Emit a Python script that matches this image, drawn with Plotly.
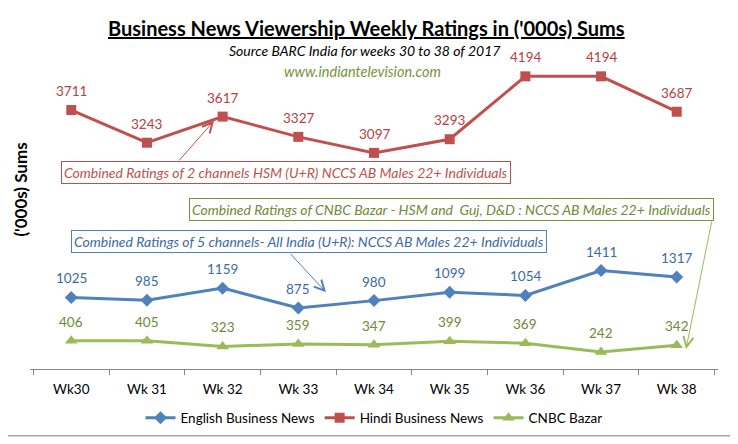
import plotly.graph_objects as go

weeks = ["Wk30", "Wk 31", "Wk 32", "Wk 33", "Wk 34", "Wk 35", "Wk 36", "Wk 37", "Wk 38"]
english = [1025, 985, 1159, 875, 980, 1099, 1054, 1411, 1317]
hindi = [3711, 3243, 3617, 3327, 3097, 3293, 4194, 4194, 3687]
cnbc = [406, 405, 323, 359, 347, 399, 369, 242, 342]

FONT = "Lato"
OFF = 8  # page body margin
W, H = 738 - OFF, 444 - OFF
L, R, T, B = 30, 718, 55, 370  # plot area in page pixels


def px(x):
    return (x - L) / (R - L)


def py(y):
    return (B - y) / (B - T)


fig = go.Figure()
series = [
    ("English Business News", english, "#4F81BD", "diamond", 10, "#3A6AA8"),
    ("Hindi Business News", hindi, "#C0504D", "square", 10, "#B8403D"),
    ("CNBC Bazar", cnbc, "#9BBB59", "triangle-up", 11, "#6E8A34"),
]
annotations = []
for name, vals, col, sym, size, tcol in series:
    fig.add_trace(go.Scatter(
        x=weeks, y=vals, name=name, mode="lines+markers",
        line=dict(color=col, width=3),
        marker=dict(symbol=sym, size=size, color=col),
    ))
    for w, v in zip(weeks, vals):
        annotations.append(dict(x=w, y=v, text=str(v), showarrow=False, yshift=19,
                                xanchor="center", yanchor="middle",
                                font=dict(family=FONT, size=13.5, color=tcol)))


def pa(x, y, text, size, color, **kw):
    d = dict(xref="paper", yref="paper", x=px(x), y=py(y), text=text, showarrow=False,
             xanchor="center", yanchor="middle", font=dict(family=FONT, size=size, color=color))
    d.update(kw)
    return d


# Titles
annotations += [
    pa(366, 28, "<b><u>Business News Viewership Weekly Ratings in ('000s) Sums</u></b>", 20, "#000000"),
    pa(364, 50, "<i>Source BARC India for weeks 30 to 38 of 2017</i>", 14, "#000000"),
    pa(362, 72, "<i>www.indiantelevision.com</i>", 14.5, "#77933C"),
    pa(21, 190, "<b>('000s) Sums</b>", 17, "#000000", textangle=-90),
]

# Callout boxes
boxes = [
    ("Combined Ratings of 2 channels HSM (U+R) NCCS AB Males 22+ Individuals", 286, 173, "#C0504D", "#C0504D"),
    ("Combined Ratings of CNBC Bazar - HSM and  Guj, D&D : NCCS AB Males 22+ Individuals", 451, 210, "#77933C", "#6E8A34"),
    ("Combined Ratings of 5 channels- All India (U+R): NCCS AB Males 22+ Individuals", 309, 242, "#4F81BD", "#3A6AA8"),
]
for text, cx, cy, bc, tc in boxes:
    annotations.append(pa(cx, cy, "<i>" + text.replace("  ", "&nbsp; ") + "</i>", 14, tc,
                          bordercolor=bc, borderwidth=1, borderpad=2, bgcolor="white"))

# Arrows (tail -> head)
arrows = [
    (178, 162, 214, 121, "#C0504D"),
    (712, 221, 686, 350, "#9BBB59"),
    (289, 253, 326, 293, "#4F81BD"),
]
for tx, ty, hx, hy, c in arrows:
    annotations.append(dict(xref="paper", yref="paper", x=px(hx), y=py(hy), ax=tx - hx, ay=ty - hy,
                            axref="pixel", ayref="pixel", text="", showarrow=True,
                            arrowhead=5, arrowsize=2, arrowwidth=1, arrowcolor=c))

fig.update_layout(
    width=W, height=H,
    margin=dict(l=L - OFF, r=738 - R, t=T - OFF, b=444 - B),
    paper_bgcolor="white", plot_bgcolor="white",
    font=dict(family=FONT, size=13, color="#404040"),
    showlegend=True,
    legend=dict(orientation="h", x=0.5, xanchor="center", y=py(418), yanchor="middle",
                font=dict(family=FONT, size=13.5, color="#000000"), bgcolor="rgba(0,0,0,0)"),
    xaxis=dict(type="category", categoryorder="array", categoryarray=weeks,
               showline=True, linecolor="#868686", linewidth=1,
               ticks="outside", ticklen=5, tickcolor="#868686", tickson="boundaries",
               ticklabelstandoff=8,
               showgrid=False, zeroline=False,
               tickfont=dict(family=FONT, size=13.5, color="#000000")),
    yaxis=dict(range=[0, 4500], visible=False, showgrid=False, zeroline=False),
    annotations=annotations,
    shapes=[dict(type="rect", xref="paper", yref="paper",
                 x0=px(4), x1=px(733), y0=py(437), y1=py(5),
                 line=dict(color="#A6A6A6", width=1.5))],
)

fig.write_html("out.html")
